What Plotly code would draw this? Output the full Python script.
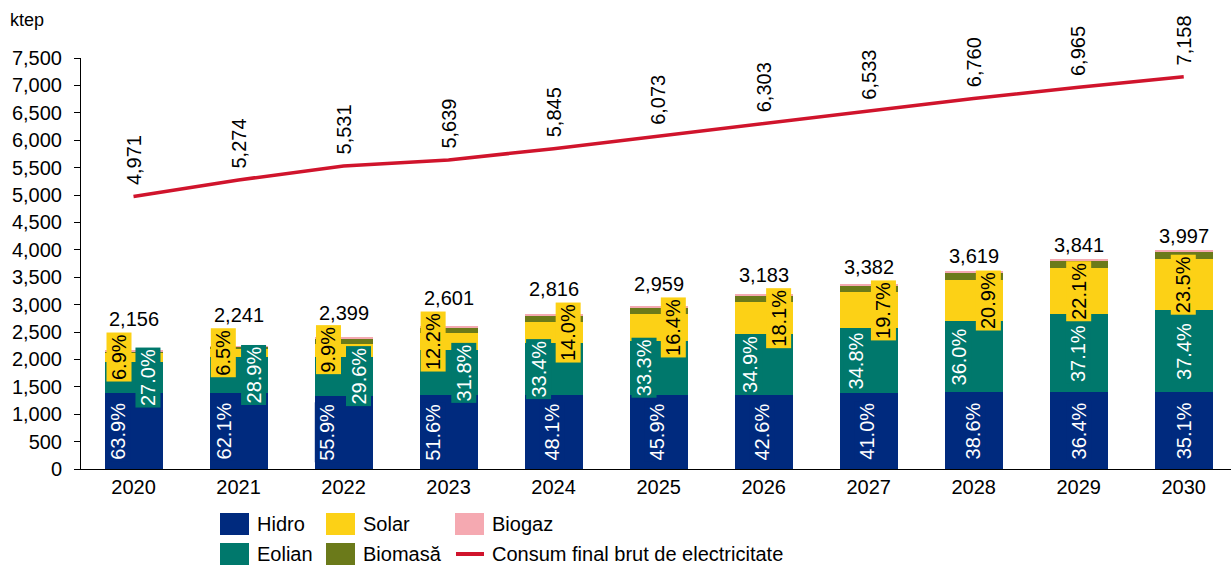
import plotly.graph_objects as go

# ---------------- data ----------------
years = [2020, 2021, 2022, 2023, 2024, 2025, 2026, 2027, 2028, 2029, 2030]
hidro = [1378, 1392, 1341, 1342, 1354, 1358, 1356, 1387, 1397, 1398, 1403]
eolian = [582, 648, 710, 827, 941, 985, 1111, 1177, 1303, 1425, 1495]
solar = [149, 146, 238, 317, 394, 485, 576, 666, 756, 849, 939]
biomasa = [41, 47, 98, 99, 109, 110, 116, 125, 131, 134, 122]
biogaz = [6, 8, 12, 16, 18, 21, 24, 27, 32, 35, 38]
totals = [2156, 2241, 2399, 2601, 2816, 2959, 3183, 3382, 3619, 3841, 3997]
consum = [4971, 5274, 5531, 5639, 5845, 6073, 6303, 6533, 6760, 6965, 7158]

pct_hidro = ["63.9%", "62.1%", "55.9%", "51.6%", "48.1%", "45.9%", "42.6%", "41.0%", "38.6%", "36.4%", "35.1%"]
pct_eolian = ["27.0%", "28.9%", "29.6%", "31.8%", "33.4%", "33.3%", "34.9%", "34.8%", "36.0%", "37.1%", "37.4%"]
pct_solar = ["6.9%", "6.5%", "9.9%", "12.2%", "14.0%", "16.4%", "18.1%", "19.7%", "20.9%", "22.1%", "23.5%"]

y_ticks = [0, 500, 1000, 1500, 2000, 2500, 3000, 3500, 4000, 4500, 5000, 5500, 6000, 6500, 7000, 7500]

# ---------------- styles ----------------
C_HIDRO = "#002A7E"
C_EOLIAN = "#00786C"
C_SOLAR = "#FCD116"
C_BIOMASA = "#6B7A1A"
C_BIOGAZ = "#F5A9B1"
C_LINE = "#D0142C"
FONT = "Liberation Sans, Arial, sans-serif"
FS = 20

# horizontal pixel offsets of inside labels (manual placement as in source)
sh_hidro = [-15, -15, -16, -15, -2, -2, -2, -2, -1, 0, 0]
sh_eolian = [14, 15, 15, 15, -15, -15, -13, -13, -15, 0, 0]
sh_solar = [-15, -15, -15, -15, 15, 15, 15, 15, 15, 0, 0]
total_shift = [32, 31, 25, 28, 26, 23, 20, 17, 15, 14, 14]

fig = go.Figure()
for name, vals, col in [("Hidro", hidro, C_HIDRO), ("Eolian", eolian, C_EOLIAN),
                        ("Solar", solar, C_SOLAR), ("Biomasă", biomasa, C_BIOMASA),
                        ("Biogaz", biogaz, C_BIOGAZ)]:
    fig.add_trace(go.Bar(x=years, y=vals, name=name, marker=dict(color=col, line=dict(width=0)),
                         showlegend=False, hoverinfo="x+y+name"))

fig.add_trace(go.Scatter(x=years, y=consum, mode="lines", name="Consum final brut de electricitate",
                         line=dict(color=C_LINE, width=3.5), showlegend=False))

ann = []
for i, yr in enumerate(years):
    base_e = hidro[i]
    base_s = hidro[i] + eolian[i]
    ann.append(dict(x=yr, y=hidro[i] / 2, xref="x", yref="y", text=pct_hidro[i], textangle=-90,
                    showarrow=False, xshift=sh_hidro[i],
                    font=dict(color="white", size=FS, family=FONT), bgcolor=C_HIDRO, borderpad=1))
    ann.append(dict(x=yr, y=base_e + eolian[i] / 2, xref="x", yref="y", text=pct_eolian[i], textangle=-90,
                    showarrow=False, xshift=sh_eolian[i],
                    font=dict(color="white", size=FS, family=FONT), bgcolor=C_EOLIAN, borderpad=1))
    ann.append(dict(x=yr, y=base_s + solar[i] / 2, xref="x", yref="y", text=pct_solar[i], textangle=-90,
                    showarrow=False, xshift=sh_solar[i],
                    font=dict(color="black", size=FS, family=FONT), bgcolor=C_SOLAR, borderpad=1))
    ann.append(dict(x=yr, y=totals[i], xref="x", yref="y", text=f"{totals[i]:,}", showarrow=False,
                    yanchor="middle", yshift=total_shift[i],
                    font=dict(color="black", size=FS, family=FONT)))
    ann.append(dict(x=yr, y=consum[i], xref="x", yref="y", text=f"{consum[i]:,}", textangle=-90,
                    showarrow=False, yanchor="bottom", yshift=9,
                    font=dict(color="black", size=FS, family=FONT)))

# unit label
L, W, T, H = 81, 1150, 58, 411
def px(x):
    return (x - L) / W
def py(y):
    return (T + H - y) / H

ann.append(dict(xref="paper", yref="paper", x=px(8), y=py(20), text="ktep", showarrow=False,
                xanchor="left", yanchor="middle", font=dict(color="black", size=18, family=FONT)))

# manual legend
shapes = []
legend_items = [
    ("Hidro", C_HIDRO, 220, 524, "box"),
    ("Solar", C_SOLAR, 326, 524, "box"),
    ("Biogaz", C_BIOGAZ, 455, 524, "box"),
    ("Eolian", C_EOLIAN, 220, 554, "box"),
    ("Biomasă", C_BIOMASA, 326, 554, "box"),
    ("Consum final brut de electricitate", C_LINE, 455, 554, "line"),
]
for label, col, x0, yc, kind in legend_items:
    if kind == "box":
        shapes.append(dict(type="rect", xref="paper", yref="paper", x0=px(x0), x1=px(x0 + 29),
                           y0=py(yc + 11), y1=py(yc - 11), fillcolor=col, line=dict(width=0)))
    else:
        shapes.append(dict(type="line", xref="paper", yref="paper", x0=px(x0 + 1), x1=px(x0 + 29),
                           y0=py(yc), y1=py(yc), line=dict(color=col, width=4)))
    ann.append(dict(xref="paper", yref="paper", x=px(x0 + 35), y=py(yc), text=label, showarrow=False,
                    xanchor="left", yanchor="middle", font=dict(color="black", size=FS, family=FONT)))

fig.update_layout(
    width=1231, height=567,
    margin=dict(l=L, r=0, t=T, b=567 - T - H),
    barmode="stack", bargap=0.448,
    plot_bgcolor="white", paper_bgcolor="white",
    font=dict(family=FONT, size=FS, color="black"),
    annotations=ann, shapes=shapes,
    showlegend=False,
    xaxis=dict(range=[2019.5, 2030.45], tickvals=years, showline=True, linecolor="black", linewidth=1,
               ticks="", showgrid=False, zeroline=False, tickfont=dict(size=FS, color="black")),
    yaxis=dict(range=[0, 7500], tickvals=y_ticks, tickformat=",", showline=True, linecolor="black",
               linewidth=1, ticks="outside", ticklen=6, tickcolor="black", showgrid=False,
               zeroline=False, ticklabelstandoff=8, tickfont=dict(size=FS, color="black")),
)

fig.write_html("out.html", config={"displayModeBar": False},
               post_script="document.body.style.margin='0px';")
